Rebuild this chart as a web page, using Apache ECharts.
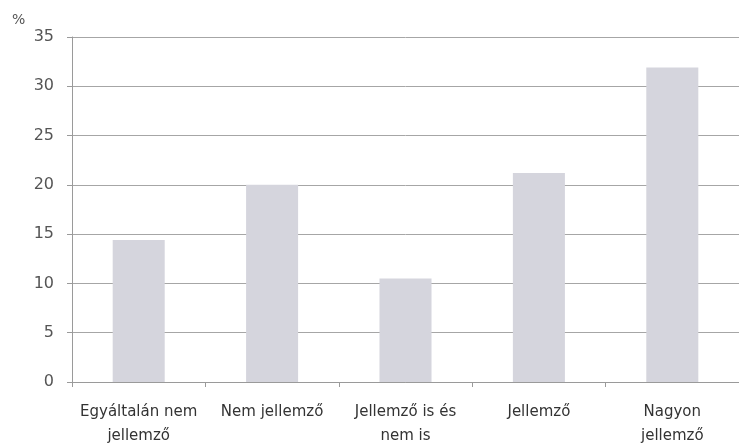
<!DOCTYPE html>
<html>
<head>
<meta charset="utf-8">
<script src="https://cdn.jsdelivr.net/npm/echarts@6/dist/echarts.min.js"></script>
<style>
  html, body { margin: 0; padding: 0; background: #fff; }
  #chart { width: 739px; height: 448px; }
</style>
</head>
<body>
<div id="chart"></div>
<script>
// kategóriák (x tengely)
const categories = ['Egyáltalán nem\njellemző', 'Nem jellemző', 'Jellemző is és\nnem is', 'Jellemző', 'Nagyon\njellemző']
// százalékos értékek
const values = [14.4, 20.0, 10.5, 21.2, 31.9]
// y tengely beosztás
const yMin = 0
const yMax = 35
const yStep = 5

const chart = echarts.init(document.getElementById('chart'))
chart.setOption({
  animation: false,
  textStyle: { fontFamily: 'DejaVu Sans' },
  title: {
    text: '%',
    left: 7,
    top: 8,
    textStyle: { fontSize: 14, fontWeight: 'normal', color: '#555', fontFamily: 'DejaVu Sans' },
  },
  grid: { left: 72, right: -2, top: 37, bottom: 65 },
  xAxis: {
    type: 'category',
    data: categories,
    axisLine: { lineStyle: { color: '#9a9a9a' } },
    axisTick: { show: true, length: 5, lineStyle: { color: '#9a9a9a' } },
    axisLabel: { color: '#333', fontSize: 15, lineHeight: 24, margin: 18, interval: 0 },
  },
  yAxis: {
    type: 'value',
    min: yMin,
    max: yMax,
    interval: yStep,
    axisLine: { show: true, lineStyle: { color: '#9a9a9a' } },
    axisTick: { show: true, length: 5, lineStyle: { color: '#9a9a9a' } },
    axisLabel: { color: '#555', fontSize: 16, margin: 18 },
    splitLine: { lineStyle: { color: '#a6a6a6' } },
  },
  series: [
    {
      type: 'bar',
      data: values,
      barWidth: '39%',
      itemStyle: { color: '#d5d5dd' },
    },
  ],
})
</script>
</body>
</html>
